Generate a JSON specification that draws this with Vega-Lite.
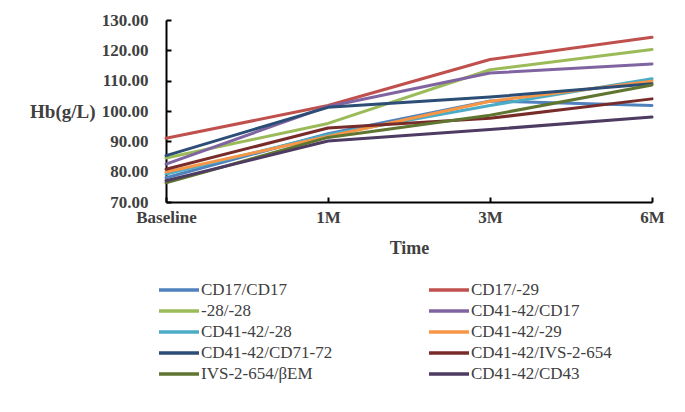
{
  "$schema": "https://vega.github.io/schema/vega-lite/v6.json",
  "autosize": "none",
  "width": 486,
  "height": 182,
  "padding": {"left": 166, "top": 20, "right": 33, "bottom": 210},
  "background": "white",
  "data": {"values": [
    {"g": "CD17/CD17", "t": "Baseline", "v": 78.0}, {"g": "CD17/CD17", "t": "1M", "v": 92.5}, {"g": "CD17/CD17", "t": "3M", "v": 103.3}, {"g": "CD17/CD17", "t": "6M", "v": 101.8},
    {"g": "CD17/-29", "t": "Baseline", "v": 91.0}, {"g": "CD17/-29", "t": "1M", "v": 101.8}, {"g": "CD17/-29", "t": "3M", "v": 117.0}, {"g": "CD17/-29", "t": "6M", "v": 124.3},
    {"g": "-28/-28", "t": "Baseline", "v": 84.5}, {"g": "-28/-28", "t": "1M", "v": 95.9}, {"g": "-28/-28", "t": "3M", "v": 113.6}, {"g": "-28/-28", "t": "6M", "v": 120.3},
    {"g": "CD41-42/CD17", "t": "Baseline", "v": 82.5}, {"g": "CD41-42/CD17", "t": "1M", "v": 101.5}, {"g": "CD41-42/CD17", "t": "3M", "v": 112.5}, {"g": "CD41-42/CD17", "t": "6M", "v": 115.5},
    {"g": "CD41-42/-28", "t": "Baseline", "v": 79.2}, {"g": "CD41-42/-28", "t": "1M", "v": 92.2}, {"g": "CD41-42/-28", "t": "3M", "v": 101.8}, {"g": "CD41-42/-28", "t": "6M", "v": 110.6},
    {"g": "CD41-42/-29", "t": "Baseline", "v": 79.9}, {"g": "CD41-42/-29", "t": "1M", "v": 91.6}, {"g": "CD41-42/-29", "t": "3M", "v": 103.2}, {"g": "CD41-42/-29", "t": "6M", "v": 109.8},
    {"g": "CD41-42/CD71-72", "t": "Baseline", "v": 85.3}, {"g": "CD41-42/CD71-72", "t": "1M", "v": 101.2}, {"g": "CD41-42/CD71-72", "t": "3M", "v": 104.6}, {"g": "CD41-42/CD71-72", "t": "6M", "v": 109.0},
    {"g": "CD41-42/IVS-2-654", "t": "Baseline", "v": 80.8}, {"g": "CD41-42/IVS-2-654", "t": "1M", "v": 94.4}, {"g": "CD41-42/IVS-2-654", "t": "3M", "v": 97.6}, {"g": "CD41-42/IVS-2-654", "t": "6M", "v": 104.0},
    {"g": "IVS-2-654/βEM", "t": "Baseline", "v": 76.3}, {"g": "IVS-2-654/βEM", "t": "1M", "v": 91.3}, {"g": "IVS-2-654/βEM", "t": "3M", "v": 98.6}, {"g": "IVS-2-654/βEM", "t": "6M", "v": 108.6},
    {"g": "CD41-42/CD43", "t": "Baseline", "v": 77.0}, {"g": "CD41-42/CD43", "t": "1M", "v": 90.1}, {"g": "CD41-42/CD43", "t": "3M", "v": 93.9}, {"g": "CD41-42/CD43", "t": "6M", "v": 98.0}
  ]},
  "mark": {"type": "line", "strokeWidth": 3, "strokeCap": "round", "strokeJoin": "round"},
  "encoding": {
    "x": {
      "field": "t", "type": "ordinal",
      "sort": ["Baseline", "1M", "3M", "6M"],
      "scale": {"type": "point", "padding": 0},
      "axis": {
        "title": "Time", "labelAngle": 0, "grid": false, "labelOverlap": false, "labelBound": false, "labelFlush": false,
        "domainColor": "black", "domainWidth": 2,
        "tickColor": "black", "tickWidth": 2, "tickSize": -5,
        "labelFont": "Liberation Serif, Times New Roman, serif", "labelFontWeight": "bold", "labelFontSize": 17, "labelColor": "#404040",
        "labelPadding": 12,
        "titleFont": "Liberation Serif, Times New Roman, serif", "titleFontWeight": "bold", "titleFontSize": 18, "titleColor": "#404040",
        "titlePadding": 14
      }
    },
    "y": {
      "field": "v", "type": "quantitative",
      "scale": {"domain": [70, 130], "nice": false, "zero": false},
      "axis": {
        "title": "Hb(g/L)", "format": ".2f", "values": [70, 80, 90, 100, 110, 120, 130], "grid": false, "labelOverlap": false, "labelBound": false, "labelFlush": false,
        "domainColor": "black", "domainWidth": 2,
        "tickColor": "black", "tickWidth": 2, "tickSize": -5,
        "labelFont": "Liberation Serif, Times New Roman, serif", "labelFontWeight": "bold", "labelFontSize": 17, "labelColor": "#404040",
        "labelPadding": 23,
        "titleFont": "Liberation Serif, Times New Roman, serif", "titleFontWeight": "bold", "titleFontSize": 19, "titleColor": "#404040",
        "titleAngle": 0, "titleAlign": "right", "titleBaseline": "middle", "titleX": -71, "titleY": 91
      }
    },
    "color": {
      "field": "g", "type": "nominal",
      "scale": {
        "domain": ["CD17/CD17", "CD17/-29", "-28/-28", "CD41-42/CD17", "CD41-42/-28", "CD41-42/-29", "CD41-42/CD71-72", "CD41-42/IVS-2-654", "IVS-2-654/βEM", "CD41-42/CD43"],
        "range": ["#4F81BD", "#C0504D", "#9BBB59", "#8064A2", "#4BACC6", "#F79646", "#2C4D75", "#772C2A", "#5F7530", "#4D3B62"]
      },
      "legend": {
        "title": null, "orient": "none", "legendX": 1, "legendY": 258, "columns": 2, "direction": "horizontal",
        "columnPadding": 89, "rowPadding": 1, "padding": 0,
        "symbolType": "M-2,0H2", "symbolSize": 400, "symbolStrokeWidth": 3.5,
        "labelFont": "Liberation Serif, Times New Roman, serif", "labelFontSize": 17, "labelColor": "#404040", "labelOffset": 10,
        "labelLimit": 300
      }
    }
  },
  "config": {"view": {"stroke": null}}
}
